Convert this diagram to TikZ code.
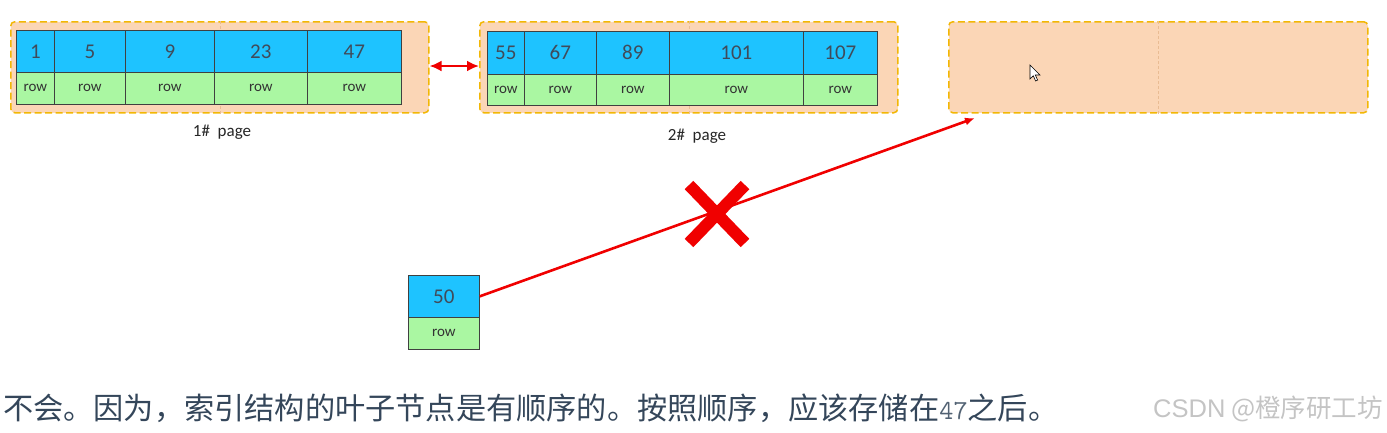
\documentclass[tikz,border=0pt]{standalone}
\usepackage{fontspec}
\setmainfont{Carlito}
\newfontfamily\cjk{Noto Sans CJK SC}
\newfontfamily\wmlatin{Liberation Sans}
\usetikzlibrary{arrows.meta}
\definecolor{keyblue}{HTML}{1EC3FF}
\definecolor{rowgreen}{HTML}{AAF7A2}
\definecolor{pagefill}{HTML}{FBD6B6}
\definecolor{pageedge}{HTML}{F2B705}
\definecolor{numtxt}{HTML}{404B5A}
\definecolor{cntxt}{HTML}{34465A}
\definecolor{wm}{HTML}{C4C4C4}
\definecolor{xred}{HTML}{F00000}
\tikzset{
  pagebox/.style={fill=pagefill, draw=pageedge, line width=1.5pt, dash pattern=on 7pt off 3.5pt, rounded corners=4pt},
  pagemid/.style={draw=pagefill!70!brown, line width=0.5pt, dash pattern=on 3pt off 2pt},
  keycell/.style={draw=black!75, line width=0.7pt, fill=keyblue, inner sep=0pt, anchor=north west, text=numtxt, font=\fontsize{21}{23}\selectfont},
  rowcell/.style={draw=black!75, line width=0.7pt, fill=rowgreen, inner sep=0pt, anchor=north west, text=black!80, font=\fontsize{15}{17}\selectfont},
  pagelabel/.style={font=\fontsize{17}{19}\selectfont, text=black!85},
  redarrow/.style={draw=xred, line width=2.6pt},
  crossarm/.style={draw=xred, line width=12pt, line cap=butt}
}
\begin{document}
\begin{tikzpicture}[x=1pt,y=-1pt]
\useasboundingbox (0,0) rectangle (1387,432);
% page boxes
\node[pagebox, inner sep=0pt, minimum width=418pt, minimum height=91pt, anchor=north west] (p1) at (10,21) {};
\node[pagebox, inner sep=0pt, minimum width=418pt, minimum height=91pt, anchor=north west] (p2) at (479,21) {};
\node[pagebox, inner sep=0pt, minimum width=419pt, minimum height=91pt, anchor=north west] (p3) at (948,21) {};
\draw[pagemid] (p1.north) -- (p1.south);
\draw[pagemid] (p2.north) -- (p2.south);
\draw[pagemid] (p3.north) -- (p3.south);
% page 1 cells
\foreach \xa/\xb/\k [count=\i] in {16/54/1, 54/125/5, 125/214/9, 214/307/23, 307/401/47}{
  \node[keycell, minimum width={\xb-\xa}, minimum height=42pt] (a\i) at (\xa,30) {\k};
  \node[rowcell, minimum width={\xb-\xa}, minimum height=32pt] (ar\i) at (\xa,72) {row};
}
% page 2 cells
\foreach \xa/\xb/\k [count=\i] in {487/524/55, 524/596/67, 596/669/89, 669/803/101, 803/877/107}{
  \node[keycell, minimum width={\xb-\xa}, minimum height=43pt] (b\i) at (\xa,31) {\k};
  \node[rowcell, minimum width={\xb-\xa}, minimum height=31pt] (br\i) at (\xa,74) {row};
}
\node[pagelabel] (l1) at (222,132) {1\#\ \ page};
\node[pagelabel] (l2) at (697,136) {2\#\ \ page};
% double arrow between pages
\draw[redarrow, {Latex[length=12pt,width=11pt]}-{Latex[length=12pt,width=11pt]}] (p1.east |- 0,66) -- (p2.west |- 0,66);
% new record
\node[keycell, minimum width=71pt, minimum height=42pt] (n50) at (408,275) {50};
\node[rowcell, minimum width=71pt, minimum height=32pt] (n50r) at (408,317) {row};
\coordinate (target) at (975,118);
\draw[redarrow, -{Latex[length=10pt,width=8pt]}] (n50.east) -- (target);
% cross
\draw[crossarm] (689,185) -- (745,243);
\draw[crossarm] (745,185) -- (689,243);
% mouse cursor
\draw[fill=white, draw=black, line width=0.6pt] (1030,65) -- (1030,79) -- (1033.3,75.8) -- (1035.6,81) -- (1037.6,80.1) -- (1035.3,75) -- (1040,75) -- cycle;
% caption
\node[anchor=base west, inner sep=0pt, text=cntxt, font=\fontsize{30.2}{33}\selectfont] (cap) at (3,419) {\cjk 不会。因为，索引结构的叶子节点是有顺序的。按照顺序，应该存储在{\ttfamily\fontsize{27.5}{30}\selectfont\color{cntxt!85}47}之后。};
\node[anchor=base east, inner sep=0pt, text=wm, font=\fontsize{25.5}{28}\selectfont] (wmk) at (1383,417) {{\wmlatin CSDN} {\cjk @橙序研工坊}};
\end{tikzpicture}
\end{document}
